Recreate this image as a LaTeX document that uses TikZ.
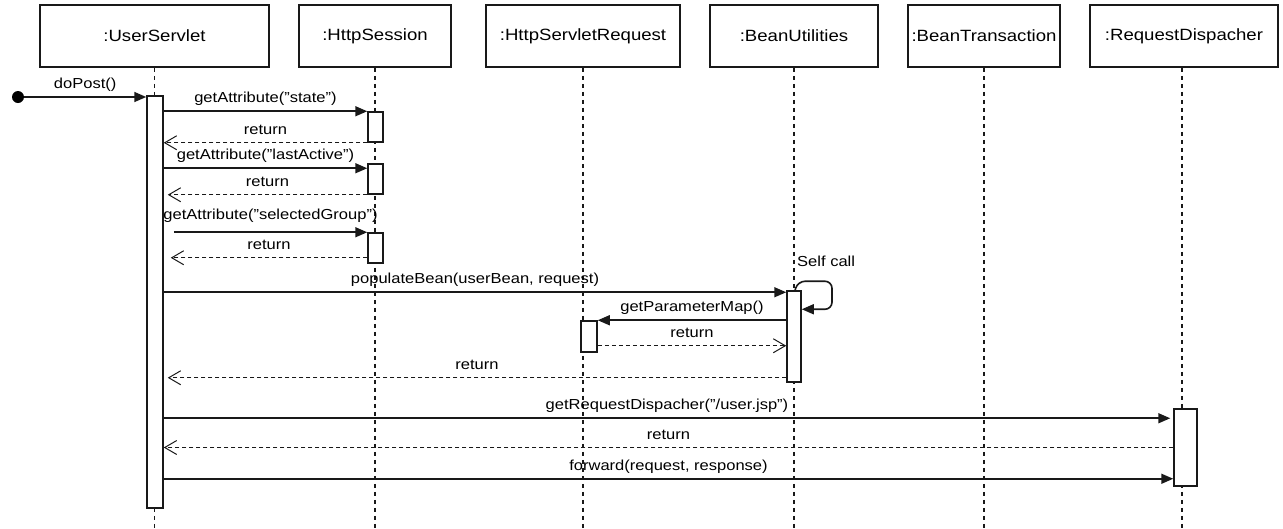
\documentclass[tikz,border=0pt]{standalone}
\usepackage{fontspec}
\setmainfont[FakeStretch=1.14]{Liberation Sans}
\usetikzlibrary{arrows.meta}
\newcommand{\objfont}{\fontsize{16.3}{19}\selectfont}
\newcommand{\lblfont}{\fontsize{14.5}{17}\selectfont}

\begin{document}
\begin{tikzpicture}[x=1pt, y=-1pt, text=black,
	obj/.style={draw=black!90, line width=1.5pt, minimum height=62pt, inner sep=0pt, font=\objfont},
	act/.style={draw=black!90, fill=white, line width=1.5pt, inner sep=0pt},
	lifeline/.style={draw=black!90, line width=1.5pt, dash pattern=on 4pt off 4pt},
	msg/.style={draw=black!90, line width=1.6pt, -{Triangle[length=12pt,width=10pt]}},
	ret/.style={draw=black!90, line width=1.4pt, dash pattern=on 4pt off 3pt, -{Straight Barb[length=12pt,width=14pt,line width=1pt]}},
	lbl/.style={font=\lblfont, inner sep=0pt, text depth=0.25em, text height=0.75em, anchor=south, yshift=5pt}]
\useasboundingbox (0,0) rectangle (1283,528);
\coordinate (bottom) at (0,528);

%Participants
\node[obj, minimum width=229pt] (us) at (154.5,36) {:UserServlet};
\node[obj, minimum width=152pt] (hs) at (375,36) {:HttpSession};
\node[obj, minimum width=194pt] (hsr) at (583,36) {:HttpServletRequest};
\node[obj, minimum width=168pt] (bu) at (794,36) {:BeanUtilities};
\node[obj, minimum width=152pt] (bt) at (984,36) {:BeanTransaction};
\node[obj, minimum width=188pt] (rd) at (1184,36) {:RequestDispacher};

%Lifelines
\foreach \p in {us,hs,hsr,bu,bt}
	\draw[lifeline] (\p.south) -- (\p.south |- bottom);
\draw[lifeline] ([xshift=-2pt]rd.south) -- ([xshift=-2pt]rd.south |- bottom);

%Activations
\node[act, minimum width=16pt, minimum height=412pt] (usA) at (155,302) {};
\node[act, minimum width=15pt, minimum height=30pt] (hs1) at (375.5,127) {};
\node[act, minimum width=15pt, minimum height=30pt] (hs2) at (375.5,179) {};
\node[act, minimum width=15pt, minimum height=30pt] (hs3) at (375.5,248) {};
\node[act, minimum width=14pt, minimum height=91pt] (buA) at (794,336.5) {};
\node[act, minimum width=16pt, minimum height=31pt] (hsrA) at (589,336.5) {};
\node[act, minimum width=23pt, minimum height=77pt] (rdA) at (1185.5,447.5) {};

%Incoming call
\node[circle, fill=black, minimum size=12pt, inner sep=0pt] (init) at (18,97) {};
\draw[msg] (init) -- (usA.west |- init) node[lbl, midway] (doPost) {doPost()};

%Session attributes
\draw[msg] (usA.east |- hs1.north) -- (hs1.north west) node[lbl, midway] (m1) {getAttribute("state")};
\draw[ret] (hs1.south west) -- (usA.east |- hs1.south west) node[lbl, midway] (r1) {return};
\draw[msg] ([yshift=-5pt]usA.east |- hs2.north west) -- ([yshift=-5pt]hs2.north west) node[lbl, midway] (m2) {getAttribute("lastActive")};
\draw[ret] (hs2.south west) -- ([xshift=4pt]usA.east |- hs2.south west) node[lbl, midway] (r2) {return};
\draw[msg] ([xshift=10pt]usA.east |- hs3.north) -- (hs3.north west) node[lbl, midway, yshift=4pt] (m3) {getAttribute("selectedGroup")};
\draw[ret] ([yshift=6pt]hs3.south west) -- ([yshift=6pt,xshift=7pt]usA.east |- hs3.south west) node[lbl, midway] (r3) {return};

%Bean population
\draw[msg] ([yshift=-2pt]usA.east |- buA.north west) -- ([yshift=-2pt]buA.north west) node[lbl, midway] (m4) {populateBean(userBean, request)};
\node[font=\lblfont, anchor=west, inner sep=0pt] (self) at (797,261) {Self call};
\draw[msg, rounded corners=7pt] ([xshift=1pt]buA.north) -- ++(3,-9) -- ++(34,0) -- ++(0,28) -- ([yshift=-19pt]buA.north east);
\draw[msg] (buA.west |- hsrA.north east) -- (hsrA.north east) node[lbl, midway] (m5) {getParameterMap()};
\draw[ret] ([yshift=7pt]hsrA.south east) -- ([yshift=7pt]buA.west |- hsrA.south east) node[lbl, midway] (r5) {return};
\draw[ret] ([yshift=5pt]buA.south west) -- ([yshift=5pt,xshift=4pt]usA.east |- buA.south west) node[lbl, midway] (r4) {return};

%Dispatch
\draw[msg] ([yshift=-10pt]usA.east |- rdA.north west) -- ([yshift=-10pt,xshift=-3pt]rdA.north west) node[lbl, midway] (m6) {getRequestDispacher("/user.jsp")};
\draw[ret] (rdA.west) -- (usA.east |- rdA.west) node[lbl, midway] (r6) {return};
\draw[msg] ([yshift=8pt]usA.east |- rdA.south west) -- ([yshift=8pt]rdA.south west) node[lbl, midway] (m7) {forward(request, response)};

\end{tikzpicture}
\end{document}
